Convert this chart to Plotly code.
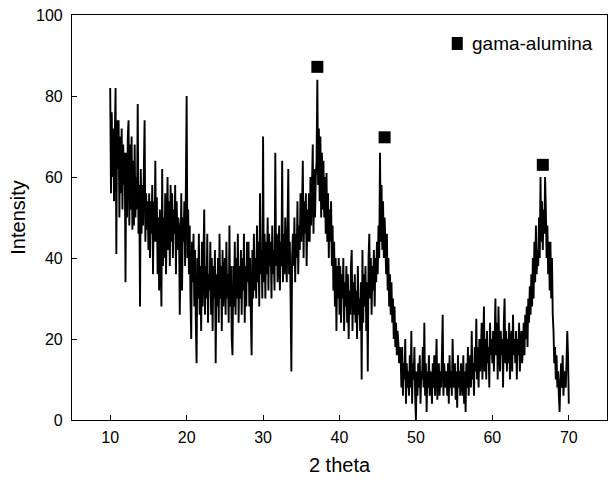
import plotly.graph_objects as go

# XRD scan: 2-theta from 10.0 to 70.0 in 0.1 degree steps (rows = one degree each)
theta_start = 10.0
theta_step = 0.1
intensity_rows = [
    [82, 56, 76, 60, 72, 54, 70, 82, 41, 74],   # 10
    [62, 74, 50, 70, 56, 72, 52, 68, 58, 66],   # 11
    [34, 66, 50, 70, 74, 48, 68, 52, 70, 47],   # 12
    [64, 48, 68, 50, 60, 52, 78, 46, 58, 28],   # 13
    [62, 46, 58, 48, 62, 74, 44, 56, 47, 54],   # 14
    [42, 56, 40, 54, 46, 58, 36, 54, 44, 64],   # 15
    [44, 55, 36, 50, 32, 52, 40, 28, 62, 38],   # 16
    [50, 40, 56, 36, 48, 60, 42, 54, 38, 58],   # 17
    [44, 56, 40, 52, 46, 58, 36, 54, 42, 50],   # 18
    [48, 26, 40, 56, 32, 50, 44, 54, 38, 58],   # 19
    [80, 40, 52, 36, 48, 30, 20, 44, 34, 46],   # 20
    [28, 42, 24, 14, 40, 30, 46, 26, 38, 22],   # 21
    [44, 28, 40, 52, 26, 38, 30, 46, 24, 36],   # 22
    [32, 44, 26, 40, 22, 38, 30, 42, 14, 36],   # 23
    [28, 40, 24, 46, 30, 38, 22, 42, 28, 36],   # 24
    [40, 26, 44, 30, 36, 24, 48, 28, 38, 20],   # 25
    [16, 38, 28, 44, 26, 40, 30, 46, 24, 38],   # 26
    [30, 42, 26, 40, 32, 46, 24, 38, 28, 44],   # 27
    [34, 44, 28, 40, 26, 16, 42, 30, 46, 32],   # 28
    [40, 30, 48, 34, 44, 28, 56, 36, 42, 30],   # 29
    [70, 34, 46, 30, 44, 36, 50, 32, 46, 38],   # 30
    [44, 30, 48, 36, 42, 32, 66, 38, 46, 34],   # 31
    [40, 48, 32, 44, 38, 64, 34, 46, 36, 50],   # 32
    [42, 34, 48, 62, 36, 44, 30, 12, 40, 46],   # 33
    [38, 50, 34, 46, 40, 54, 36, 48, 42, 56],   # 34
    [44, 52, 64, 40, 54, 46, 56, 38, 52, 44],   # 35
    [56, 44, 60, 48, 58, 68, 46, 62, 50, 60],   # 36
    [64, 84, 58, 72, 54, 70, 50, 66, 52, 64],   # 37
    [50, 60, 46, 61, 44, 56, 40, 52, 44, 54],   # 38
    [38, 48, 32, 44, 28, 40, 22, 38, 30, 40],   # 39
    [26, 38, 24, 36, 30, 40, 22, 34, 28, 38],   # 40
    [24, 36, 20, 32, 26, 38, 42, 22, 34, 26],   # 41
    [36, 24, 32, 20, 38, 26, 30, 22, 34, 10],   # 42
    [42, 24, 36, 28, 38, 22, 34, 12, 40, 46],   # 43
    [30, 40, 26, 38, 32, 42, 28, 40, 34, 44],   # 44
    [36, 48, 40, 66, 44, 58, 42, 54, 40, 50],   # 45
    [44, 36, 46, 32, 40, 28, 36, 26, 34, 24],   # 46
    [30, 20, 28, 18, 24, 16, 22, 19, 14, 18],   # 47
    [16, 8, 18, 6, 14, 10, 20, 4, 14, 8],       # 48
    [12, 6, 16, 8, 22, 4, 14, 10, 18, 6],       # 49
    [0, 12, 6, 14, 8, 16, 4, 12, 10, 18],       # 50
    [8, 24, 6, 14, 2, 12, 8, 16, 6, 12],        # 51
    [10, 4, 14, 8, 16, 6, 12, 20, 5, 10],       # 52
    [14, 6, 12, 8, 16, 26, 6, 14, 10, 8],       # 53
    [12, 6, 14, 4, 16, 8, 12, 6, 20, 10],       # 54
    [8, 14, 5, 12, 3, 16, 8, 12, 6, 14],        # 55
    [10, 6, 16, 4, 12, 2, 14, 8, 18, 6],        # 56
    [12, 16, 8, 22, 10, 14, 6, 18, 12, 25],     # 57
    [10, 18, 8, 20, 12, 16, 24, 10, 18, 28],    # 58
    [12, 20, 10, 22, 14, 18, 8, 24, 16, 20],    # 59
    [14, 22, 12, 20, 30, 16, 24, 10, 28, 18],   # 60
    [12, 22, 16, 20, 8, 24, 30, 14, 22, 12],    # 61
    [20, 14, 24, 10, 18, 22, 12, 26, 16, 20],   # 62
    [14, 22, 10, 20, 16, 24, 12, 18, 22, 14],   # 63
    [18, 24, 16, 26, 20, 28, 18, 30, 24, 33],   # 64
    [26, 36, 28, 40, 30, 44, 34, 48, 36, 42],   # 65
    [38, 50, 40, 60, 44, 54, 42, 52, 46, 60],   # 66
    [52, 40, 48, 36, 44, 32, 44, 30, 40, 26],   # 67
    [22, 14, 18, 10, 16, 8, 12, 6, 2, 10],      # 68
    [14, 8, 16, 6, 12, 10, 8, 14, 22, 16],      # 69
    [4],                                        # 70
]

# gamma-alumina reflections (marker position and height)
peak_theta = [37.1, 45.9, 66.6]
peak_marker_y = [87.2, 69.8, 63.0]

x_ticks = [10, 20, 30, 40, 50, 60, 70]
y_ticks = [0, 20, 40, 60, 80, 100]

legend_label = "gama-alumina"

intensity = [v for row in intensity_rows for v in row]
two_theta = [round(theta_start + theta_step * i, 1) for i in range(len(intensity))]

FONT = "Liberation Sans, Arial, sans-serif"

fig = go.Figure()
fig.add_trace(go.Scatter(
    x=two_theta, y=intensity, mode="lines",
    line=dict(color="black", width=1.9, simplify=False),
    showlegend=False, hoverinfo="skip",
))
fig.add_trace(go.Scatter(
    x=peak_theta, y=peak_marker_y, mode="markers", name=legend_label,
    marker=dict(symbol="square", size=12, color="black"), showlegend=False,
))

axis_common = dict(
    showline=True, linecolor="black", linewidth=1.2, mirror=True,
    ticks="inside", ticklen=5, tickcolor="black", tickwidth=1,
    showgrid=False, zeroline=False, automargin=False,
    tickfont=dict(family=FONT, size=16, color="black"),
)

fig.update_layout(
    width=609, height=483,
    margin=dict(l=72, r=2, t=15, b=63),
    paper_bgcolor="white", plot_bgcolor="white",
    font=dict(family=FONT, color="black"),
    showlegend=False,
    xaxis=dict(range=[5, 75], tickvals=x_ticks, ticklabelstandoff=3,
               title=dict(text="2 theta", font=dict(size=20), standoff=12), **axis_common),
    yaxis=dict(range=[0, 100], tickvals=y_ticks, ticklabelstandoff=5,
               title=dict(text="Intensity", font=dict(size=20), standoff=4), **axis_common),
    # legend key drawn as a small square plus its label (top-right corner)
    shapes=[dict(type="rect", xref="paper", yref="paper",
                 x0=0.7098, x1=0.7304, y0=0.9136, y1=0.9457,
                 fillcolor="black", line=dict(width=0))],
    annotations=[dict(text=legend_label, xref="paper", yref="paper",
                      x=0.7435, y=0.930, xanchor="left", yanchor="middle",
                      showarrow=False, font=dict(family=FONT, size=19, color="black"))],
)

fig.write_html(
    "out.html",
    config={"displayModeBar": False},
    post_script="document.body.style.margin='0';document.body.style.overflow='hidden';",
)
